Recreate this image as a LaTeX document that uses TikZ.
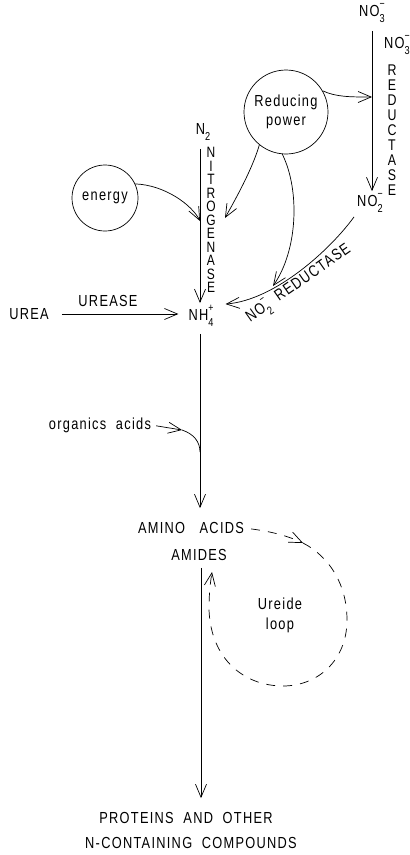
\documentclass[tikz,border=0pt]{standalone}
\usepackage{fontspec}
\setmainfont{Liberation Sans}[FakeStretch=0.8, LetterSpace=8]
\usetikzlibrary{arrows.meta}
\newcommand{\sbsp}[2]{\rlap{\raisebox{0.55em}{\fontsize{11}{11}\selectfont #2}}\raisebox{-0.4em}{\fontsize{11.5}{11.5}\selectfont #1}}
\newcommand{\sbx}[1]{\raisebox{-0.4em}{\fontsize{11.5}{11.5}\selectfont #1}}
\begin{document}
\begin{tikzpicture}[x=1pt,y=-1pt,
  lbl/.style={inner sep=0pt, font=\fontsize{16}{18}\selectfont},
  vlbl/.style={inner sep=0pt, align=center},
  bubble/.style={draw, circle, inner sep=0pt, line width=0.7pt, align=center, font=\fontsize{16}{19}\selectfont},
  arr/.style={-{Straight Barb[length=13pt,width=11pt]}, line width=0.7pt},
  ln/.style={line width=0.7pt},
  dsh/.style={line width=0.7pt, dash pattern=on 9pt off 8pt}
]
\useasboundingbox (0,0) rectangle (410,855);

% nodes
\node[lbl] (no3a) at (372,13) {NO\sbsp{3}{−}};
\node[lbl] (no3b) at (397,45) {NO\sbsp{3}{−}};
\node[vlbl, font=\fontsize{15.5}{15}\selectfont] (redu) at (392,130) {R\\E\\D\\U\\C\\T\\A\\S\\E};
\node[lbl] (no2) at (370,203) {NO\sbsp{2}{−}};
\node[bubble, minimum size=84pt] (rp) at (286,112) {Reducing\\power};
\node[lbl] (n2) at (203,132) {N\sbx{2}};
\node[vlbl, font=\fontsize{15}{13.5}\selectfont] (nitro) at (211,220) {N\\I\\T\\R\\O\\G\\E\\N\\A\\S\\E};
\node[bubble, minimum size=66pt] (energy) at (105,198) {energy};
\node[lbl] (nh4) at (201,316) {NH\sbsp{4}{+}};
\node[lbl] (urea) at (29,314) {UREA};
\node[lbl] (urease) at (108,301) {UREASE};
\node[lbl] (org) at (100,425) {organics\ \ acids};
\node[lbl] (aa) at (191,528) {AMINO\ \ \ ACIDS};
\node[lbl] (amides) at (199,555) {AMIDES};
\node[lbl, align=center, font=\fontsize{16}{20}\selectfont] (ureide) at (280,615) {Ureide\\loop};
\node[lbl] (prot) at (186,818) {PROTEINS\ \ AND\ \ OTHER};
\node[lbl] (ncont) at (191,843) {N-CONTAINING\ \ COMPOUNDS};
\node[lbl, rotate=35] (no2lab) at (299,284) {NO\sbsp{2}{−}\ \ REDUCTASE};

% junction coordinates
\coordinate (j1) at (372,97);
\coordinate (j2) at (200,221);
\coordinate (j3) at (225,218);
\coordinate (j4) at (273,286);
\coordinate (j5) at (182,430);
\coordinate (j6) at (200,452);
\coordinate (j7) at (303,543);
\coordinate (j8) at (212,572);

% connectors
\draw[arr, shorten <=8pt, shorten >=2pt] (no3a.south) -- (no3a.south |- no2.north);
\draw[arr] (rp.30) .. controls (336,97) and (350,97) .. (j1);
\draw[arr, shorten <=8pt, shorten >=2pt] (n2.south -| 200,0) -- (nh4.north -| 200,0);
\draw[arr] (energy.25) .. controls (165,185) and (192,205) .. (j2);
\draw[arr] (rp.231) .. controls (252,170) and (235,200) .. (j3);
\draw[arr] (rp.265) .. controls (300,190) and (298,250) .. (j4);
\draw[arr, shorten <=5pt, shorten >=12pt] (no2.south west) .. controls (330,250) and (275,300) .. (nh4.north east);
\draw[arr, shorten <=13pt, shorten >=10pt] (urea.east) -- (urea.east -| nh4.west);
\draw[arr, shorten <=7pt, shorten >=14pt] (nh4.south -| 200,0) -- (aa.north -| 200,0);
\draw[arr, shorten <=5pt] (org.east) -- (j5);
\draw[ln] (j5) .. controls (194,434) and (200,442) .. (j6);
\draw[dsh, -{Straight Barb[length=13pt,width=11pt]}, shorten <=7pt] (aa.east) .. controls (275,532) and (290,537) .. (j7);
\draw[dsh, -{Straight Barb[length=13pt,width=11pt]}] (j7) .. controls (330,557) and (347,585) .. (347,620)
   .. controls (347,660) and (318,686) .. (283,686)
   .. controls (245,686) and (211,660) .. (209,610)
   .. controls (209,595) and (210,585) .. (j8);
\draw[arr, shorten <=7pt, shorten >=14pt] (amides.south -| 201,0) -- (prot.north -| 201,0);
\end{tikzpicture}
\end{document}
